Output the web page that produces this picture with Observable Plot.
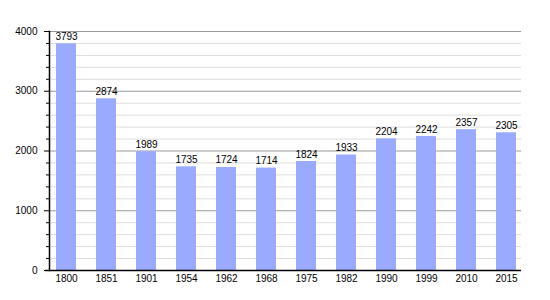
<!DOCTYPE html>
<html>
<head>
<meta charset="utf-8">
<script src="https://cdn.jsdelivr.net/npm/d3@7"></script>
<script src="https://cdn.jsdelivr.net/npm/@observablehq/plot@0.6"></script>
<style>
  html, body { margin: 0; padding: 0; background: #fff; }
</style>
</head>
<body>
<div id="chart"></div>
<script>
const years = ["1800","1851","1901","1954","1962","1968","1975","1982","1990","1999","2010","2015"];
const population = [3793, 2874, 1989, 1735, 1724, 1714, 1824, 1933, 2204, 2242, 2357, 2305];
const majorTicks = [0, 1000, 2000, 3000, 4000];
const minorTicks = d3.range(0, 4001, 200).filter(v => v % 1000 !== 0);

const data = years.map((y, i) => ({year: y, value: population[i]}));

const chart = Plot.plot({
  width: 550,
  height: 300,
  marginLeft: 49,
  marginRight: 29,
  marginTop: 31,
  marginBottom: 30,
  style: {fontFamily: "'Liberation Sans', Arial, sans-serif", fontSize: "10px", color: "#000", background: "#fff"},
  x: {domain: years, paddingInner: 0.5, paddingOuter: 0, insetLeft: 2, label: null},
  y: {domain: [0, 4000], label: null},
  marks: [
    Plot.gridY(minorTicks, {stroke: "#dddddd", strokeOpacity: 1}),
    Plot.gridY(majorTicks, {stroke: "#999999", strokeOpacity: 1}),
    Plot.barY(data, {x: "year", y: "value", fill: "#99aaff"}),
    Plot.text(data, {x: "year", y: "value", text: d => String(d.value), lineAnchor: "bottom", dy: -4, fill: "#000"}),
    Plot.axisY(minorTicks, {tickSize: 3, text: null, stroke: "#000"}),
    Plot.axisY(majorTicks, {tickSize: 5, tickPadding: 7, tickFormat: d => String(d), stroke: "#000", fill: "#000"}),
    Plot.axisX({tickSize: 0, tickPadding: 4, fill: "#000"}),
    Plot.frame({anchor: "left", stroke: "#000", strokeWidth: 1.5}),
    Plot.ruleY([0], {stroke: "#000", strokeWidth: 1.5, insetLeft: -4})
  ]
});
document.getElementById("chart").appendChild(chart);
</script>
</body>
</html>
